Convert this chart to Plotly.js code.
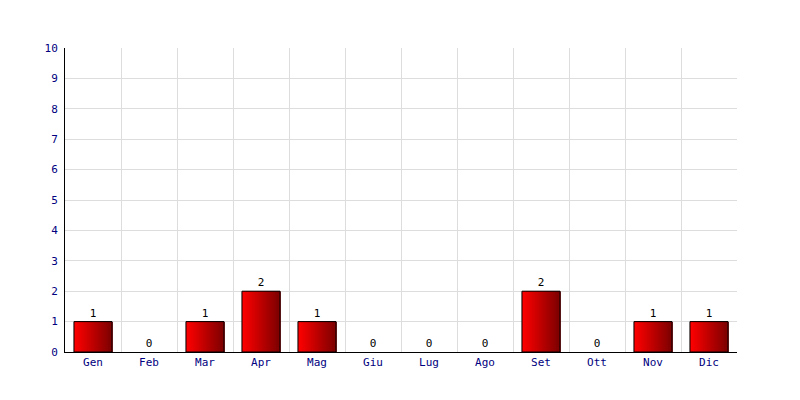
<!DOCTYPE html>
<html><head><meta charset="utf-8">
<script src="https://cdn.plot.ly/plotly-3.0.1.min.js"></script>
<style>html,body{margin:0;padding:0;background:#fff}</style>
</head><body>
<div id="chart" style="width:800px;height:400px"></div>
<script>
const months = ["Gen","Feb","Mar","Apr","Mag","Giu","Lug","Ago","Set","Ott","Nov","Dic"];
const values = [1,0,1,2,1,0,0,0,2,0,1,1];
const yTicks = [0,1,2,3,4,5,6,7,8,9,10];

const barWidth = 0.68;
const nSlices = 38;
const barValues = values.map(v => v === 0 ? null : v);
const traces = [];
function lerp(a,b,t){return Math.round(a+(b-a)*t);}
for (let i = 0; i < nSlices; i++) {
  const t = i/(nSlices-1);
  const r = lerp(255,125,t);
  const w = barWidth/nSlices;
  traces.push({
    type:'bar', x: months, y: barValues,
    width: barWidth - i*w, offset: -barWidth/2 + i*w,
    marker:{color:`rgb(${r},0,0)`, line:{width:0}},
    hoverinfo:'skip', showlegend:false
  });
}
traces.push({
  type:'bar', x: months, y: barValues, width: barWidth, offset: -barWidth/2,
  marker:{color:'rgba(0,0,0,0)', line:{color:'#000', width:1}},
  hoverinfo:'skip', showlegend:false
});
traces.push({
  type:'scatter', mode:'markers+text', x: months, y: values,
  text: values.map(String), textposition:'top center',
  marker:{size:2, opacity:0},
  textfont:{family:'DejaVu Sans Mono, monospace', size:11, color:'#000'},
  hoverinfo:'skip', showlegend:false, cliponaxis:false
});

const layout = {
  width:800, height:400,
  margin:{l:65, r:63, t:48, b:48},
  paper_bgcolor:'#fff', plot_bgcolor:'#fff',
  barmode:'overlay',
  showlegend:false,
  xaxis:{
    type:'category', tickson:'boundaries', range:[-0.5,11.5],
    showgrid:true, gridcolor:'#dddddd', gridwidth:1,
    showline:true, linecolor:'#000', linewidth:1,
    ticks:'', zeroline:false,
    tickfont:{family:'DejaVu Sans Mono, monospace', size:11, color:'#000080'}
  },
  yaxis:{
    range:[0,10], tickvals:yTicks, ticktext:yTicks.map(String),
    showgrid:true, gridcolor:'#dddddd', gridwidth:1,
    showline:true, linecolor:'#000', linewidth:1,
    ticks:'', ticklabelstandoff:4, zeroline:false,
    tickfont:{family:'DejaVu Sans Mono, monospace', size:11, color:'#000080'}
  }
};
Plotly.newPlot('chart', traces, layout, {displayModeBar:false, staticPlot:true});
</script>
</body></html>
